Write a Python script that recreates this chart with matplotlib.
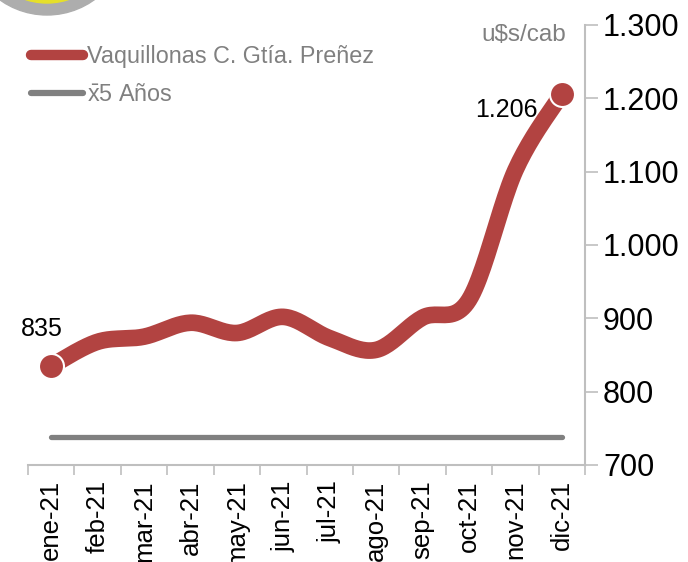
import numpy as np
import matplotlib
matplotlib.use("Agg")
import matplotlib.pyplot as plt
from matplotlib.lines import Line2D
from matplotlib.patches import Circle

plt.rcParams['font.family'] = ['Liberation Sans', 'DejaVu Sans']
plt.rcParams['mathtext.fontset'] = 'custom'
plt.rcParams['mathtext.rm'] = 'Liberation Sans'

# data
months = ['ene-21', 'feb-21', 'mar-21', 'abr-21', 'may-21', 'jun-21',
          'jul-21', 'ago-21', 'sep-21', 'oct-21', 'nov-21', 'dic-21']
precio = [835, 868, 875, 894, 880, 902, 873, 857, 901, 925, 1102, 1206]
promedio_5 = [738] * 12

red = '#B24341'
gray = '#808080'
axis_gray = '#BFBFBF'


def smooth(xs, ys, n=24):
    # Excel-like smoothed line (Bezier through the points)
    pts = np.column_stack([xs, ys]).astype(float)
    pad = np.vstack([pts[0], pts, pts[-1]])
    out = []
    t = np.linspace(0, 1, n)[:, None]
    for i in range(1, len(pad) - 2):
        p0, p1, p2, p3 = pad[i - 1], pad[i], pad[i + 1], pad[i + 2]
        c1 = p1 + (p2 - p0) / 6
        c2 = p2 - (p3 - p1) / 6
        seg = ((1 - t) ** 3) * p1 + 3 * ((1 - t) ** 2) * t * c1 + 3 * (1 - t) * t ** 2 * c2 + t ** 3 * p2
        out.append(seg if i == 1 else seg[1:])
    seg = np.vstack(out)
    return seg[:, 0], seg[:, 1]


fig = plt.figure(figsize=(6.88, 5.62), dpi=100)
ax = fig.add_axes([28 / 688, 97 / 562, 557 / 688, 440 / 562])

x = np.arange(len(months))
sx, sy = smooth(x, precio)
ax.plot(x, promedio_5, color=gray, lw=3.8, solid_capstyle='round', zorder=2)
ax.plot(sx, sy, color=red, lw=12, solid_capstyle='round', zorder=3)
ax.plot([x[0], x[-1]], [precio[0], precio[-1]], 'o', ms=18, color=red,
        mec='white', mew=1.5, zorder=4)

ax.text(x[0] - 0.2, precio[0] + 50, '835', fontsize=18, ha='center', va='center')
ax.text(x[-1] - 1.2, precio[-1] - 22, '1.206', fontsize=18, ha='center', va='center')

ax.set_xlim(-0.5, 11.5)
ax.set_ylim(700, 1300)
ax.set_yticks(range(700, 1301, 100))
ax.set_yticklabels(['{:,}'.format(v).replace(',', '.') for v in range(700, 1301, 100)])
ax.yaxis.tick_right()
ax.tick_params(axis='y', labelsize=22, length=9, width=1.2, color=axis_gray, pad=4)

ax.set_xticks(x)
ax.set_xticklabels(months, rotation=90, fontsize=18.5, va='top', ha='center')
ax.set_xticks(np.arange(-0.5, 12, 1), minor=True)
ax.tick_params(axis='x', which='major', length=0, pad=11)
ax.tick_params(axis='x', which='minor', length=7, width=1.2, color=axis_gray)

for s in ['top', 'left']:
    ax.spines[s].set_visible(False)
for s in ['bottom', 'right']:
    ax.spines[s].set_color(axis_gray)
    ax.spines[s].set_linewidth(1.5)

ax.text(11.1, 1286, 'u$s/cab', fontsize=17.5, color=gray, ha='right', va='center')

handles = [Line2D([], [], color=red, lw=7.5, solid_capstyle='round'),
           Line2D([], [], color=gray, lw=4.5, solid_capstyle='round')]
ax.legend(handles, ['Vaquillonas C. Gtía. Preñez', r'$\mathrm{\bar{x}}$5 Años'],
          loc='upper left', bbox_to_anchor=(0.005, 1.0 - 20 / 440), frameon=False,
          fontsize=16.8, labelcolor=gray, handlelength=2.25, handletextpad=0.15,
          labelspacing=0.65, borderpad=0, borderaxespad=0)

# partial logo at top-left corner
fig.patches.append(Circle((47, 562 + 66), 81, transform=None, color='#ADADAD', zorder=0))
fig.patches.append(Circle((47, 562 + 66), 69, transform=None, color='#E6E02A', zorder=0))

fig.savefig('out.png', dpi=100)
